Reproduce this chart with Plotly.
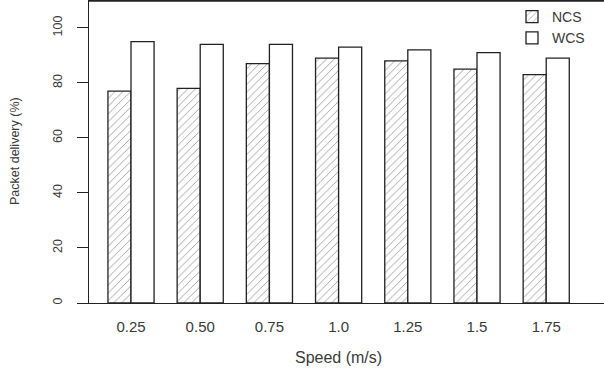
import plotly.graph_objects as go

speeds = ["0.25", "0.50", "0.75", "1.0", "1.25", "1.5", "1.75"]
ncs = [77, 78, 87, 89, 88, 85, 83]
wcs = [95, 94, 94, 93, 92, 91, 89]
yticks = [0, 20, 40, 60, 80, 100]

LINE = "#222222"
TEXT = "#3a3a3a"
FONT = "Liberation Sans, Arial, sans-serif"

fig = go.Figure()
fig.add_trace(go.Bar(
    x=speeds, y=ncs, name="NCS",
    marker=dict(color="white", line=dict(color=LINE, width=1.3),
                pattern=dict(shape="/", fgcolor="#3a3a3a", bgcolor="white",
                             size=5.5, solidity=0.16)),
))
fig.add_trace(go.Bar(
    x=speeds, y=wcs, name="WCS",
    marker=dict(color="white", line=dict(color=LINE, width=1.3)),
))

W, H = 604, 374
L, R, T, B = 89, 0, 1, 71
pw, ph = W - L - R, H - T - B

fig.update_layout(
    width=W, height=H,
    margin=dict(l=L, r=R, t=T, b=B, pad=0),
    paper_bgcolor="white", plot_bgcolor="white",
    barmode="group", bargap=1/3, bargroupgap=0,
    font=dict(family=FONT, color=TEXT, size=13),
    showlegend=True,
    legend=dict(x=(512 - L) / pw, y=1.0, xanchor="left", yanchor="top",
                bgcolor="rgba(0,0,0,0)", font=dict(size=14, color=TEXT),
                tracegroupgap=0),
    xaxis=dict(
        type="category", range=[-0.607, 6.835],
        showline=True, linecolor=LINE, linewidth=1.3, mirror=True,
        ticks="", showgrid=False, zeroline=False,
        tickfont=dict(size=15, color=TEXT), ticklabelstandoff=10,
    ),
    yaxis=dict(
        range=[0, 109.8], tickvals=yticks, ticktext=[str(v) for v in yticks],
        showline=True, linecolor=LINE, linewidth=1.3,
        ticks="outside", ticklen=11, tickcolor=LINE, tickwidth=1.2,
        tickangle=-90, tickfont=dict(size=12.5, color=TEXT),
        showgrid=False, zeroline=False, ticklabelstandoff=10,
    ),
    shapes=[
        dict(type="line", xref="paper", yref="paper", x0=0, x1=1, y0=1, y1=1,
             line=dict(color=LINE, width=1.6)),
    ],
    annotations=[
        dict(text="Packet delivery (%)", xref="paper", yref="paper",
             x=(15 - L) / pw, y=(H - B - 151) / ph, textangle=-90,
             showarrow=False, font=dict(size=12.5, color=TEXT),
             xanchor="center", yanchor="middle"),
        dict(text="Speed (m/s)", xref="paper", yref="paper",
             x=(338 - L) / pw, y=-(357 - (H - B)) / ph,
             showarrow=False, font=dict(size=16, color=TEXT),
             xanchor="center", yanchor="middle"),
    ],
)

fig.write_html("out.html")
